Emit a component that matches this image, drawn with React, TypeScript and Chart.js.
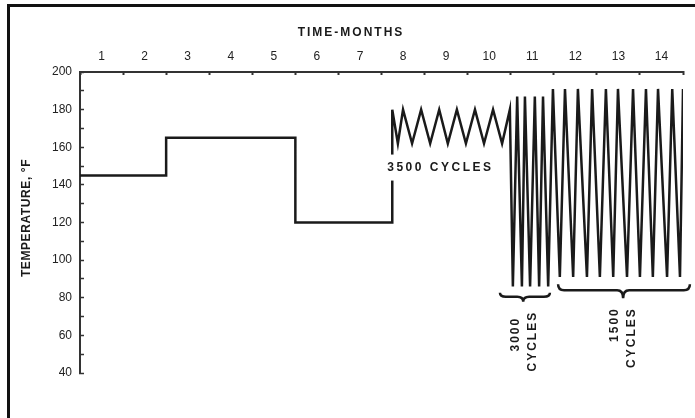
import React, { useEffect, useRef } from 'react';
import { Chart, registerables } from 'chart.js';

Chart.register(...registerables);

// ---- data ----
const monthLabels = ['1', '2', '3', '4', '5', '6', '7', '8', '9', '10', '11', '12', '13', '14'];

// constant-temperature steps (months, °F)
const stepTime = [0, 2, 2, 5, 5, 7.25, 7.25];
const stepTemp = [145, 145, 165, 165, 120, 120, 180];

// 3500-cycle zigzag
const cycles3500Time = [7.38, 7.5, 7.71, 7.92, 8.13, 8.34, 8.54, 8.75, 8.96, 9.17, 9.38, 9.59, 9.8, 9.98];
const cycles3500Temp = [162, 180, 162, 180, 162, 180, 162, 180, 162, 180, 162, 180, 162, 180];

// 3000-cycle spikes
const cycles3000Time = [10.05, 10.15, 10.26, 10.33, 10.45, 10.56, 10.66, 10.75, 10.87];
const cycles3000Temp = [86, 187, 86, 187, 86, 187, 86, 187, 86];

// 1500-cycle spikes
const cycles1500Time = [10.98, 11.14, 11.26, 11.45, 11.56, 11.77, 11.89, 12.07, 12.21, 12.38, 12.49, 12.7, 12.84, 13.0, 13.14, 13.3, 13.42, 13.63, 13.75, 13.93, 14.0];
const cycles1500Temp = [191, 91, 191, 91, 191, 91, 191, 91, 191, 91, 191, 91, 191, 91, 191, 91, 191, 91, 191, 91, 191];

// braces under the cycling regions
const braceFrom = [9.75, 11.1];
const braceTo = [10.91, 14.16];
const braceTip = [10.29, 12.61];
const braceTemp = [80.5, 84];
const braceCount = ['3000', '1500'];

const label3500 = '3500 CYCLES';
const xTitle = 'TIME-MONTHS';
const yTitle = 'TEMPERATURE, °F';

const FONT = "'Liberation Sans', Arial, sans-serif";
const INK = '#1a1a1a';

const profileTime = [...stepTime, ...cycles3500Time, ...cycles3000Time, ...cycles1500Time];
const profileTemp = [...stepTemp, ...cycles3500Temp, ...cycles3000Temp, ...cycles1500Temp];

const annotations = {
  id: 'annotations',
  afterDatasetsDraw(chart: any) {
    const { ctx, scales } = chart;
    const xs = scales.x;
    const ys = scales.y;
    ctx.save();
    ctx.fillStyle = INK;
    ctx.strokeStyle = INK;

    // 3500 cycles label with white backing over the vertical line
    ctx.font = `bold 12px ${FONT}`;
    (ctx as any).letterSpacing = '2.5px';
    const lx = xs.getPixelForValue(stepTime[stepTime.length - 1]) - 5;
    const ly = ys.getPixelForValue(149.2);
    const w = ctx.measureText(label3500).width;
    ctx.fillStyle = '#fff';
    ctx.fillRect(lx - 2, ly - 13, w + 4, 26);
    ctx.fillStyle = INK;
    ctx.textAlign = 'left';
    ctx.textBaseline = 'middle';
    ctx.fillText(label3500, lx, ly);

    // braces + rotated labels
    ctx.lineWidth = 2.5;
    for (let i = 0; i < braceFrom.length; i++) {
      const x1 = xs.getPixelForValue(braceFrom[i]);
      const x2 = xs.getPixelForValue(braceTo[i]);
      const xm = xs.getPixelForValue(braceTip[i]);
      const y = ys.getPixelForValue(braceTemp[i]);
      const curl = i === 0 ? 4 : 6;
      const tip = i === 0 ? 5 : 8;
      ctx.beginPath();
      ctx.moveTo(x1, y - curl);
      ctx.quadraticCurveTo(x1, y, x1 + 6, y);
      ctx.lineTo(xm - 6, y);
      ctx.quadraticCurveTo(xm, y, xm, y + tip);
      ctx.quadraticCurveTo(xm, y, xm + 6, y);
      ctx.lineTo(x2 - 6, y);
      ctx.quadraticCurveTo(x2, y, x2, y - curl);
      ctx.stroke();

      ctx.font = `bold 12px ${FONT}`;
      (ctx as any).letterSpacing = '2px';
      ctx.textAlign = 'right';
      ctx.textBaseline = 'middle';
      const lines = [braceCount[i], 'CYCLES'];
      const offs = [-8, 9];
      const tops = i === 0 ? [20, 14] : [17, 17];
      lines.forEach((t, k) => {
        ctx.save();
        ctx.translate(xm + offs[k], y + tops[k]);
        ctx.rotate(-Math.PI / 2);
        ctx.fillText(t, 0, 0);
        ctx.restore();
      });
    }

    // axis titles
    ctx.font = `bold 12px ${FONT}`;
    (ctx as any).letterSpacing = '2px';
    ctx.textAlign = 'center';
    ctx.textBaseline = 'middle';
    ctx.fillText(xTitle, 351, 33);

    (ctx as any).letterSpacing = '0.6px';
    ctx.save();
    ctx.translate(27, 218);
    ctx.rotate(-Math.PI / 2);
    ctx.fillText(yTitle, 0, 0);
    ctx.restore();

    (ctx as any).letterSpacing = '0px';
    ctx.restore();
  },
};

export default function App() {
  const ref = useRef<HTMLCanvasElement | null>(null);

  useEffect(() => {
    if (!ref.current) return;
    const chart = new Chart(ref.current, {
      type: 'line',
      data: {
        datasets: [
          {
            data: profileTime.map((t, i) => ({ x: t, y: profileTemp[i] })),
            borderColor: INK,
            borderWidth: 2.5,
            pointRadius: 0,
            tension: 0,
            fill: false,
          },
        ],
      },
      options: {
        responsive: false,
        maintainAspectRatio: false,
        devicePixelRatio: 1,
        animation: false,
        layout: { padding: { left: 0, top: 0, right: 12, bottom: 45 } },
        plugins: { legend: { display: false }, tooltip: { enabled: false }, title: { display: false } },
        scales: {
          x: {
            type: 'linear',
            position: 'top',
            min: 0,
            max: 14,
            afterBuildTicks: (scale: any) => {
              const ticks: any[] = [];
              monthLabels.forEach((_, i) => {
                ticks.push({ value: i });
                ticks.push({ value: i + 0.5 });
              });
              ticks.push({ value: monthLabels.length });
              scale.ticks = ticks;
            },
            afterFit: (scale: any) => {
              scale.height = 72;
            },
            ticks: {
              autoSkip: false,
              maxRotation: 0,
              padding: 11,
              color: '#222',
              font: { family: FONT, size: 12 },
              callback: (v: any) => (Number.isInteger(v) ? '' : monthLabels[Math.floor(v)]),
            },
            grid: {
              drawOnChartArea: false,
              drawTicks: true,
              tickLength: -3,
              tickWidth: 2,
              tickColor: (c: any) => (c.tick && Number.isInteger(c.tick.value) ? '#333' : 'rgba(0,0,0,0)'),
            },
            border: { display: true, color: '#333', width: 2 },
          },
          y: {
            type: 'linear',
            position: 'left',
            min: 40,
            max: 200,
            afterFit: (scale: any) => {
              scale.width = 80;
            },
            ticks: {
              stepSize: 10,
              padding: 12,
              color: '#222',
              font: { family: FONT, size: 12 },
              callback: (v: any) => (v % 20 === 0 ? String(v) : ''),
            },
            grid: {
              drawOnChartArea: false,
              drawTicks: true,
              tickLength: -4,
              tickWidth: 1.5,
              tickColor: '#333',
            },
            border: { display: true, color: '#333', width: 2 },
          },
        },
      },
      plugins: [annotations],
    } as any);
    return () => chart.destroy();
  }, []);

  return (
    <div style={{ position: 'absolute', left: 0, top: 0, width: 695, height: 418, background: '#fff', overflow: 'hidden' }}>
      <canvas ref={ref} width={695} height={418} style={{ position: 'absolute', left: 0, top: 0, width: 695, height: 418 }} />
      <div
        style={{
          position: 'absolute',
          left: 7,
          top: 4,
          right: 0,
          bottom: 0,
          borderTop: '3px solid #111',
          borderLeft: '3px solid #111',
          pointerEvents: 'none',
        }}
      />
    </div>
  );
}
